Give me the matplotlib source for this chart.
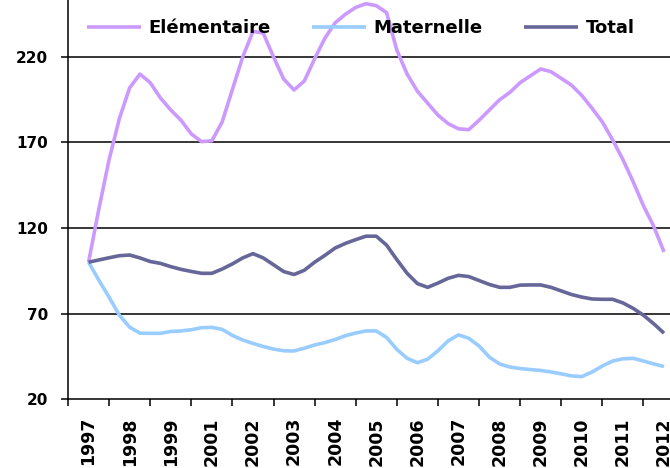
import matplotlib
matplotlib.use("Agg")
import matplotlib.pyplot as plt
import numpy as np
from matplotlib.font_manager import FontProperties

# ---- data (quarterly index, base 100) ----
year_labels = ['1997', '1998', '1999', '2001', '2002', '2003', '2004', '2005',
               '2006', '2007', '2008', '2009', '2010', '2011', '2012']

elementaire = [100, 131, 160, 184, 202, 210, 205, 196, 189, 183, 175, 170.5,
               171, 182, 201, 220, 235, 234, 220, 207, 200.7, 206, 219, 231,
               240, 245, 249, 251.2, 250, 246, 224, 210, 200, 193, 186, 181,
               178, 177.5, 183, 189, 195, 199.3, 205, 209, 213, 211.4, 207.5,
               203.5, 197.5, 190, 182, 171.5, 160, 147, 133, 121, 106]

maternelle = [100, 89.5, 79.5, 69, 62, 58.5, 58.4, 58.4, 59.5, 59.8, 60.5, 61.7,
              61.9, 60.7, 57.2, 54.5, 52.5, 50.7, 49.2, 48.2, 48.1, 49.7, 51.6,
              53, 54.8, 57, 58.6, 59.8, 59.8, 56, 49, 43.8, 41.2, 43.3, 48.2, 54,
              57.5, 55.5, 51, 44.5, 40.5, 38.7, 37.8, 37.2, 36.7, 35.8, 34.7,
              33.5, 33.1, 35.8, 39.3, 42.2, 43.5, 43.8, 42.2, 40.5, 39]

total = [100, 101.3, 102.6, 103.8, 104.2, 102.5, 100.4, 99.3, 97.4, 95.8, 94.6,
         93.5, 93.5, 96, 99, 102.5, 105, 102.5, 98.5, 94.5, 92.8, 95.3, 100,
         104, 108.3, 111, 113.2, 115.2, 115.2, 110, 101.5, 93.5, 87.5, 85.3,
         87.8, 90.6, 92.3, 91.6, 89.3, 87, 85.3, 85.3, 86.6, 86.7, 86.7, 85.3,
         83.2, 81.1, 79.6, 78.5, 78.3, 78.3, 76.2, 73, 69, 64, 58.5]

y_ticks = [20, 70, 120, 170, 220]
points_per_label = 4

# ---- figure ----
W, H = 670, 468
fig = plt.figure(figsize=(W / 100, H / 100), dpi=100)
ax = fig.add_axes([68 / W, 69 / H, 602 / W, 399 / H])

x = np.arange(len(total))
c_elem, c_mat, c_tot = '#CC99FF', '#99CCFF', '#666699'
lw = 2.6
ax.plot(x, elementaire, color=c_elem, lw=lw, label='Elémentaire', zorder=3,
        solid_joinstyle='round', solid_capstyle='butt')
ax.plot(x, maternelle, color=c_mat, lw=lw, label='Maternelle', zorder=3,
        solid_joinstyle='round', solid_capstyle='butt')
ax.plot(x, total, color=c_tot, lw=lw, label='Total', zorder=3,
        solid_joinstyle='round', solid_capstyle='butt')

px_per_idx = 10.276
ax.set_xlim(-2, -2 + 602 / px_per_idx)
ax.set_ylim(20, 20 + 399 * 50 / 85.5)

# gridlines
for v in y_ticks[1:]:
    ax.axhline(v, color='black', lw=1.1, zorder=1)

for s in ['top', 'right']:
    ax.spines[s].set_visible(False)
for s in ['left', 'bottom']:
    ax.spines[s].set_color('black')
    ax.spines[s].set_linewidth(1.1)

tick_font = FontProperties(family='DejaVu Sans', weight='bold', size=11)
xtick_font = FontProperties(family='DejaVu Sans', weight='bold', size=12.5)

ax.set_yticks(y_ticks)
ax.set_yticklabels([str(v) for v in y_ticks], fontproperties=tick_font)
ax.tick_params(axis='y', length=5, width=1.1, pad=9.5, color='black')

label_pos = np.arange(len(year_labels)) * points_per_label
ax.set_xticks(label_pos)
ax.set_xticklabels(year_labels, rotation=90, fontproperties=xtick_font,
                   ha='center', va='top')
ax.tick_params(axis='x', which='major', length=0, pad=13)
ax.set_xticks(label_pos - points_per_label / 2, minor=True)
ax.tick_params(axis='x', which='minor', length=5, width=1.1, color='black')

leg_font = FontProperties(family='DejaVu Sans', weight='bold', size=13)
ax.legend(ncol=3, frameon=False, loc='center left',
          bbox_to_anchor=(87 / W, 1 - 28 / H), bbox_transform=fig.transFigure,
          handlelength=3.0, handletextpad=0.4, columnspacing=2.3,
          borderpad=0, borderaxespad=0, prop=leg_font)

fig.savefig('out.png', dpi=100)
